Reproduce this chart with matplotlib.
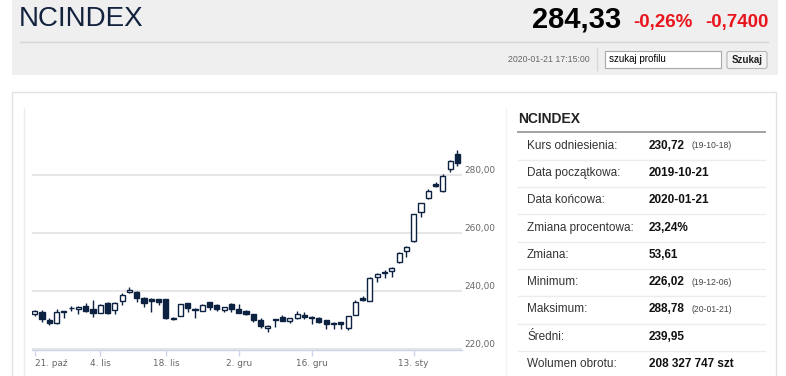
import matplotlib
matplotlib.use('Agg')
import matplotlib.pyplot as plt
from matplotlib.patches import Rectangle, FancyBboxPatch
import numpy as np
import pandas as pd

# Notowania dzienne NCINDEX, 21.10.2019 - 21.01.2020
opens = [232.24, 233.03, 230.17, 229.03, 232.83, 234.31, 233.97, 235.00, 233.86, 232.69,
         236.14, 233.62, 236.83, 239.83, 239.93, 237.86, 237.31, 237.31, 237.31, 230.59,
         231.55, 235.93, 233.62, 233.38, 236.28, 235.34, 233.62, 235.59, 233.97, 233.28,
         232.14, 230.17, 227.31, 230.24, 231.31, 229.83, 230.76, 231.90, 231.31, 230.97,
         230.17, 229.24, 229.38, 227.48, 231.90, 237.66, 236.83, 245.10, 246.83, 247.17,
         250.07, 254.07, 257.41, 267.52, 272.14, 277.07, 274.76, 282.24, 287.31]
highs = [233.45, 233.62, 230.76, 233.86, 233.34, 235.00, 234.90, 235.93, 237.07, 235.69,
         236.28, 236.28, 239.38, 241.45, 240.17, 238.10, 237.59, 237.48, 237.48, 231.31,
         235.76, 236.10, 234.14, 235.52, 236.48, 235.52, 234.72, 235.93, 235.59, 233.45,
         232.31, 230.76, 228.45, 230.52, 231.90, 230.86, 233.28, 232.83, 231.45, 231.14,
         230.34, 229.38, 229.48, 231.72, 237.24, 238.45, 244.90, 246.21, 247.41, 248.34,
         253.52, 255.59, 266.72, 270.52, 275.24, 277.86, 280.52, 285.40, 288.78]
lows = [231.55, 229.59, 228.45, 228.86, 230.97, 233.28, 232.14, 233.03, 231.31, 232.48,
        232.34, 232.14, 235.34, 239.38, 236.48, 234.76, 233.03, 235.34, 230.41, 230.07,
        231.38, 232.83, 230.76, 233.17, 233.62, 233.38, 233.03, 233.03, 232.48, 231.97,
        229.59, 227.31, 226.02, 227.66, 229.66, 229.03, 230.41, 230.41, 228.79, 229.31,
        227.07, 226.97, 226.97, 226.72, 231.79, 236.72, 236.72, 243.38, 244.55, 244.90,
        249.93, 252.00, 257.17, 265.79, 272.00, 275.93, 274.21, 281.31, 283.38]
closes = [233.28, 230.41, 229.14, 233.03, 233.28, 234.21, 234.76, 233.28, 232.48, 235.34,
          232.48, 236.14, 238.79, 240.52, 237.86, 235.93, 236.83, 236.48, 230.97, 230.45,
          235.59, 234.21, 233.97, 235.34, 234.55, 233.97, 234.55, 233.97, 232.69, 232.14,
          230.17, 228.21, 228.21, 230.45, 229.83, 230.76, 232.14, 231.10, 230.97, 229.59,
          228.69, 228.69, 228.69, 231.55, 236.48, 237.07, 244.76, 246.03, 246.28, 248.21,
          253.38, 255.45, 266.62, 270.41, 274.76, 276.38, 279.83, 285.07, 284.33]

# dni wolne na GPW w tym okresie
holidays = ['2019-11-01', '2019-11-11', '2019-12-24', '2019-12-25', '2019-12-26',
            '2019-12-31', '2020-01-01', '2020-01-06']

tick_dates = ['2019-10-21', '2019-11-04', '2019-11-18', '2019-12-02', '2019-12-16', '2020-01-13']
tick_labels = ['21. paź', '4. lis', '18. lis', '2. gru', '16. gru', '13. sty']
y_ticks = [220, 240, 260, 280, 300]

table_labels = ['Kurs odniesienia:', 'Data początkowa:', 'Data końcowa:', 'Zmiana procentowa:',
                'Zmiana:', 'Minimum:', 'Maksimum:', 'Średni:', 'Wolumen obrotu:']
table_values = ['230,72', '2019-10-21', '2020-01-21', '23,24%', '53,61', '226,02', '288,78',
                '239,95', '208 327 747 szt']
table_notes = ['(19-10-18)', '', '', '', '', '(19-12-06)', '(20-01-21)', '', '']

W, H = 786, 376
NAVY = '#0d2240'
SANS = ['Liberation Sans', 'DejaVu Sans']

fig = plt.figure(figsize=(W / 100, H / 100), dpi=100)
fig.patch.set_facecolor('white')

# tlo w pikselach
bg = fig.add_axes([0, 0, 1, 1])
bg.set_xlim(0, W)
bg.set_ylim(H, 0)
bg.axis('off')

# naglowek
bg.add_patch(Rectangle((12, 0), 766, 75, facecolor='#efefef', edgecolor='none'))
bg.text(19, 19.5, 'NCINDEX', family=SANS, fontsize=20, color='#13223d', va='center', ha='left')
bg.text(621, 19.5, '284,33', family=SANS, fontsize=21, weight='bold', color='black',
        va='center', ha='right')
bg.text(633, 23, '-0,26%', family=SANS, fontsize=13.5, weight='bold', color='#e8161c',
        va='center', ha='left')
bg.text(769, 23, '-0,7400', family=SANS, fontsize=13.5, weight='bold', color='#e8161c',
        va='center', ha='right')
bg.plot([20, 768], [42, 42], color='#d4d4d4', lw=1)
bg.text(590, 60, '2020-01-21 17:15:00', family=SANS, fontsize=6.3, color='#666666',
        va='center', ha='right')
bg.plot([597, 597], [48, 70], color='#d8d8d8', lw=1)
bg.add_patch(Rectangle((605, 51), 116, 17, facecolor='white', edgecolor='#a9a9a9', lw=0.8))
bg.text(609, 59.5, 'szukaj profilu', family=SANS, fontsize=7, color='black', va='center')
bg.add_patch(FancyBboxPatch((727, 51.5), 40, 17, boxstyle='round,pad=0,rounding_size=2',
                            facecolor='#f4f4f4', edgecolor='#b5b5b5', lw=0.8))
bg.text(747, 60, 'Szukaj', family=SANS, fontsize=7, weight='bold', color='#222222',
        va='center', ha='center')

# panel z wykresem i tabela
bg.add_patch(Rectangle((12, 92), 764, 300, facecolor='white', edgecolor='#e2e2e2', lw=1))
bg.plot([23.5, 23.5], [108, 376], color='#ececec', lw=1)
bg.plot([506, 506], [108, 376], color='#f2f2f2', lw=1)

# tabela
bg.text(518, 119, 'NCINDEX', family=SANS, fontsize=10, weight='bold', color='#222222', va='center')
bg.plot([518, 765], [132, 132], color='#9a9a9a', lw=1.3)
for i in range(len(table_labels)):
    y = 145.7 + 27.3 * i
    bg.text(527, y, table_labels[i], family=SANS, fontsize=8.5, color='#333333', va='center')
    t = bg.text(649, y, table_values[i], family=SANS, fontsize=8.5, weight='bold',
                color='#111111', va='center')
    if table_notes[i]:
        bg.annotate(table_notes[i], xy=(1, 0.5), xycoords=t, xytext=(5, 0),
                    textcoords='offset points', family=SANS, fontsize=6.2,
                    color='#444444', va='center')
    if i < len(table_labels) - 1:
        bg.plot([518, 765], [y + 14, y + 14], color='#ececec', lw=1)

# wykres swiecowy
dates = pd.bdate_range('2019-10-21', '2020-01-21')
dates = dates[~dates.isin(pd.to_datetime(holidays))]
x = np.arange(len(dates))
o = np.array(opens)
c = np.array(closes)
up = c >= o
bottoms = np.minimum(o, c)
heights = np.maximum(np.abs(c - o), 0.25)

ax = fig.add_axes([31.7 / W, 1 - 349.5 / H, 430 / W, 232 / H])
ax.set_facecolor('none')
ax.vlines(x, lows, highs, color=NAVY, lw=1, zorder=2)
ax.bar(x[up], heights[up], bottom=bottoms[up], width=0.7, color='white',
       edgecolor=NAVY, lw=1, zorder=3)
ax.bar(x[~up], heights[~up], bottom=bottoms[~up], width=0.7, color=NAVY,
       edgecolor=NAVY, lw=1, zorder=3)
ax.set_xlim(-0.41, 58.59)
ax.set_ylim(220, 300)

ax.set_yticks(y_ticks)
ax.set_yticklabels([('%.2f' % v).replace('.', ',') if v < 300 else '' for v in y_ticks])
ax.yaxis.tick_right()
ax.tick_params(axis='y', length=0, pad=2, labelsize=6.4, labelcolor='#666666')
for lbl in ax.get_yticklabels():
    lbl.set_va('bottom')
ax.yaxis.grid(True, color='#e6e6e6', lw=1.5)
ax.set_axisbelow(True)

tick_pos = [dates.get_loc(pd.Timestamp(d)) for d in tick_dates]
ax.set_xticks(tick_pos)
ax.set_xticklabels(tick_labels)
ax.tick_params(axis='x', length=4, width=1, color='#ccd6eb', pad=3, labelsize=6.4,
               labelcolor='#666666')
ax.get_xticklabels()[0].set_ha('left')
ax.get_xticklabels()[0].set_x(tick_pos[0] - 0.35)
for lbl in ax.get_xticklabels()[1:]:
    lbl.set_ha('center')

for s in ['top', 'left', 'right']:
    ax.spines[s].set_visible(False)
ax.spines['bottom'].set_color('#ccd6eb')
ax.spines['bottom'].set_linewidth(1)

fig.savefig('out.png', dpi=100)
